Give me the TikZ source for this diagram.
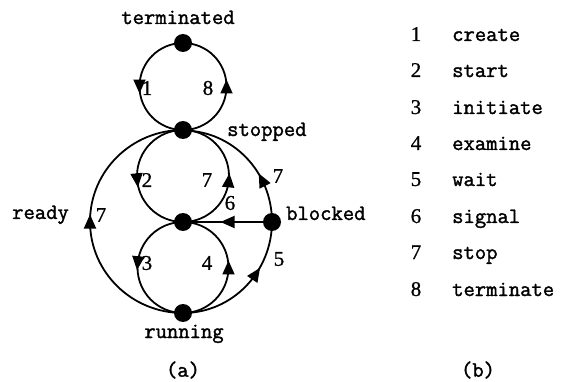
\documentclass[tikz,border=0pt]{standalone}
\usepackage{fontspec}
\setmonofont{Latin Modern Mono}[FakeBold=1.6]
\newfontfamily\digitfont{Liberation Serif}[FakeBold=0.8]
\usetikzlibrary{arrows.meta,decorations.markings}
\pgfdeclarelayer{edges}
\pgfsetlayers{edges,main}
\tikzset{
  state/.style={circle,fill=black,inner sep=0pt,minimum size=18pt},
  word/.style={font=\fontsize{22}{26}\selectfont\ttfamily,inner sep=0pt},
  num/.style={font=\fontsize{21}{25}\selectfont\digitfont,inner sep=0pt},
  trans/.style={line width=1.8pt},
  midarrow/.style={postaction={decorate,decoration={markings,
      mark=at position #1 with {\arrow[xshift=7pt]{Triangle[length=14pt,width=12pt]}}}}}
}
\begin{document}
\begin{tikzpicture}[x=1pt,y=1pt]
\useasboundingbox (0,0) rectangle (563,381);

% states
\node[state] (T) at (183,338) {};
\node[state] (S) at (183,251) {};
\node[state] (M) at (183,159) {};
\node[state] (B) at (272,159) {};
\node[state] (R) at (183,68) {};

% state names
\node[word,anchor=base] (tT) at (178,357) {terminated};
\node[word,anchor=base west] (tS) at (227,245) {stopped};
\node[word,anchor=base west] (tB) at (286,161) {blocked};
\node[word,anchor=base west] (tM) at (12,162) {ready};
\node[word,anchor=base] (tR) at (184,43) {running};
\node[word,anchor=center] (capa) at (183,11) {(a)};
\node[word,anchor=center] (capb) at (478,11) {(b)};

% transitions
\begin{pgfonlayer}{edges}
\draw[trans,midarrow=0.5]  (T.center) arc[start angle=90,end angle=270,radius=43.5pt];
\draw[trans,midarrow=0.5]  (S.center) arc[start angle=270,end angle=450,radius=43.5pt];
\draw[trans,midarrow=0.53] (S.center) arc[start angle=90,end angle=270,radius=46pt];
\draw[trans,midarrow=0.47] (M.center) arc[start angle=270,end angle=450,radius=46pt];
\draw[trans,midarrow=0.47] (M.center) arc[start angle=90,end angle=270,radius=45.5pt];
\draw[trans,midarrow=0.5]  (R.center) arc[start angle=270,end angle=450,radius=45.5pt];
\draw[trans,midarrow=0.5]  (R.center) arc[start angle=270,end angle=90,x radius=93pt,y radius=91.5pt];
\draw[trans,midarrow=0.61] (R.center) arc[start angle=-90,end angle=0,x radius=89pt,y radius=91.5pt];
\draw[trans,midarrow=0.31] (B.center) arc[start angle=0,end angle=90,x radius=89pt,y radius=91.5pt];
\draw[trans,midarrow=0.5]  (B) -- (M);
\end{pgfonlayer}

% transition numbers
\node[num] (l1) at (147,293) {1};
\node[num] (l8) at (208,293) {8};
\node[num] (l2) at (147,201) {2};
\node[num] (l7a) at (207,201) {7};
\node[num] (l7b) at (278,205) {7};
\node[num] (l6) at (230,178) {6};
\node[num] (l7c) at (101,166) {7};
\node[num] (l3) at (147,118) {3};
\node[num] (l4) at (207,118) {4};
\node[num] (l5) at (279,122) {5};

% legend
\foreach \i/\y/\w in {1/340/create,2/304/start,3/267/initiate,4/231/examine,
                      5/195/wait,6/158/signal,7/122/stop,8/85/terminate}{
  \node[num,anchor=base] (k\i) at (416,\y) {\i};
  \node[word,anchor=base west] (d\i) at (452,\y) {\w};
}
\end{tikzpicture}
\end{document}
